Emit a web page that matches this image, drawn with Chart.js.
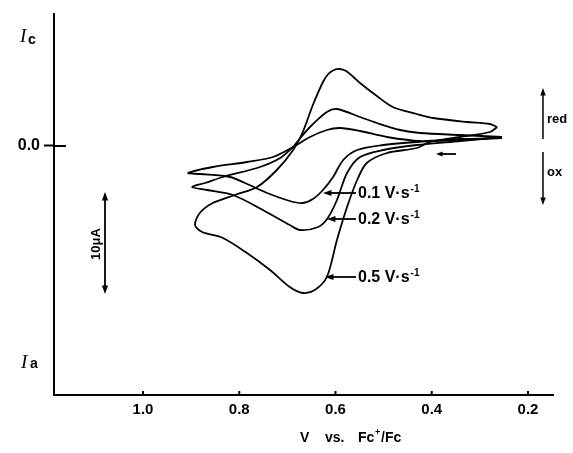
<!DOCTYPE html>
<html>
<head>
<meta charset="utf-8">
<script src="https://cdn.jsdelivr.net/npm/chart.js@4"></script>
<style>
  body { margin: 0; background: #fff; }
</style>
</head>
<body>
<canvas id="cv-chart" width="573" height="453"></canvas>
<script>
// potentials (V vs Fc+/Fc) and currents (uA, cathodic positive)
const volts01 = [0.254, 0.341, 0.431, 0.501, 0.555, 0.584, 0.605, 0.626, 0.647, 0.668, 0.695, 0.742, 0.788, 0.819, 0.882, 0.906,
                 0.855, 0.784, 0.730, 0.688, 0.653, 0.618, 0.591, 0.549, 0.493, 0.424, 0.341, 0.254];
const amps01  = [0.8, 0.6, 0.4, 0.1, -0.4, -1.4, -3.1, -4.4, -5.3, -5.7, -5.5, -4.7, -3.7, -3.1, -2.8, -2.7,
                 -2.1, -1.6, -1.1, -0.1, 0.9, 1.6, 1.8, 1.5, 0.9, 0.5, 0.7, 0.8];

const volts02 = [0.254, 0.341, 0.431, 0.501, 0.549, 0.576, 0.597, 0.616, 0.636, 0.674, 0.695, 0.751, 0.813, 0.867, 0.898,
                 0.871, 0.834, 0.757, 0.715, 0.688, 0.680, 0.653, 0.618, 0.597, 0.549, 0.514, 0.466, 0.424, 0.341, 0.254];
const amps02  = [0.9, 0.5, 0.1, -0.4, -1.1, -2.7, -5.4, -7.2, -8.1, -8.4, -7.9, -6.4, -4.9, -4.4, -4.1,
                 -3.7, -3.1, -2.1, -1.2, -0.1, 0.4, 1.9, 3.4, 3.7, 2.9, 2.3, 1.6, 1.3, 1.1, 0.9];

const volts05 = [0.264, 0.279, 0.341, 0.404, 0.431, 0.493, 0.535, 0.555, 0.576, 0.597, 0.618, 0.643, 0.668, 0.695, 0.736, 0.784, 0.834, 0.877, 0.892,
                 0.882, 0.855, 0.809, 0.763, 0.722, 0.688, 0.668, 0.647, 0.626, 0.615, 0.603, 0.591, 0.578, 0.565, 0.549, 0.514, 0.481, 0.431, 0.397, 0.327, 0.279, 0.264];
const amps05  = [1.9, 1.4, 0.9, 0.4, -0.2, -0.7, -1.7, -3.4, -6.1, -9.4, -13.1, -14.4, -14.7, -14.1, -12.4, -10.7, -9.2, -8.6, -7.9,
                 -6.7, -5.7, -4.9, -4.1, -2.4, -0.4, 1.4, 4.1, 6.4, 7.2, 7.6, 7.7, 7.5, 7.0, 6.3, 5.0, 3.9, 3.2, 2.8, 2.4, 2.2, 1.9];

const xTicks = [1.0, 0.8, 0.6, 0.4, 0.2];
const yTicks = [0];

function pts(vs, is) {
    return vs.map((v, k) => ({ x: v, y: is[k] }));
}

function curve(label, data) {
    return {
        label: label,
        data: data,
        showLine: true,
        borderColor: "#000",
        borderWidth: 1.8,
        pointRadius: 0,
        tension: 0.3,
        fill: false
    };
}

function arrow(ctx, x1, y1, x2, y2, head) {
    const a = Math.atan2(y2 - y1, x2 - x1);
    ctx.beginPath();
    ctx.moveTo(x1, y1);
    ctx.lineTo(x2 - Math.cos(a) * head * 0.6, y2 - Math.sin(a) * head * 0.6);
    ctx.stroke();
    ctx.beginPath();
    ctx.moveTo(x2, y2);
    ctx.lineTo(x2 - head * Math.cos(a - 0.35), y2 - head * Math.sin(a - 0.35));
    ctx.lineTo(x2 - head * Math.cos(a + 0.35), y2 - head * Math.sin(a + 0.35));
    ctx.closePath();
    ctx.fill();
}

function rateLabel(ctx, x, y, rate) {
    ctx.font = "bold 16px 'Liberation Sans'";
    ctx.textBaseline = "middle";
    ctx.textAlign = "left";
    let t = rate + " V\u00b7s";
    ctx.fillText(t, x, y);
    const w = ctx.measureText(t).width;
    ctx.font = "bold 10px 'Liberation Sans'";
    ctx.fillText("-1", x + w + 1, y - 5);
}

const extras = {
    id: "extras",
    afterDraw(chart) {
        const ctx = chart.ctx;
        const xs = chart.scales.x, ys = chart.scales.y;
        ctx.save();
        ctx.strokeStyle = "#000";
        ctx.fillStyle = "#000";
        ctx.lineWidth = 2;

        // little inward ticks on the x axis
        xTicks.forEach(v => {
            const px = xs.getPixelForValue(v);
            ctx.beginPath();
            ctx.moveTo(px, ys.bottom);
            ctx.lineTo(px, ys.bottom - 4);
            ctx.stroke();
        });
        // inner half of the 0.0 tick
        const y0 = ys.getPixelForValue(0);
        ctx.beginPath();
        ctx.moveTo(xs.left, y0);
        ctx.lineTo(xs.left + 12, y0);
        ctx.stroke();

        // axis end labels
        ctx.textBaseline = "alphabetic";
        ctx.textAlign = "left";
        ctx.font = "italic 19px 'Liberation Serif'";
        ctx.fillText("I", 20, 42);
        ctx.fillText("I", 21, 368);
        ctx.font = "bold 14px 'Liberation Sans'";
        ctx.fillText("c", 28, 44);
        ctx.fillText("a", 30, 368);

        // x axis title
        ctx.font = "bold 14px 'Liberation Sans'";
        ctx.fillText("V", 300, 442);
        ctx.fillText("vs.", 325, 442);
        ctx.fillText("Fc", 358, 442);
        ctx.font = "bold 9px 'Liberation Sans'";
        ctx.fillText("+", 375, 435);
        ctx.font = "bold 14px 'Liberation Sans'";
        ctx.fillText("/Fc", 381, 442);

        // current scale bar
        ctx.lineWidth = 1.8;
        arrow(ctx, 105, 240, 105, 192, 9);
        arrow(ctx, 105, 240, 105, 294, 9);
        ctx.save();
        ctx.translate(96, 244);
        ctx.rotate(-Math.PI / 2);
        ctx.textAlign = "center";
        ctx.textBaseline = "middle";
        ctx.font = "bold 13px 'Liberation Sans'";
        ctx.fillText("10\u03bcA", 0, 0);
        ctx.restore();

        // red / ox direction arrows
        ctx.lineWidth = 1.5;
        arrow(ctx, 543, 139, 543, 88, 8);
        arrow(ctx, 543, 152, 543, 205, 8);
        ctx.font = "bold 13px 'Liberation Sans'";
        ctx.textAlign = "left";
        ctx.textBaseline = "middle";
        ctx.fillText("red", 547, 119);
        ctx.fillText("ox", 547, 172);

        // sweep start arrow
        ctx.lineWidth = 1.8;
        arrow(ctx, 456, 154, 436, 154, 7);

        // scan rate labels
        ctx.lineWidth = 1.8;
        arrow(ctx, 356, 193, 323, 193, 9);
        arrow(ctx, 356, 219, 327, 219, 9);
        arrow(ctx, 356, 277, 325, 277, 9);
        rateLabel(ctx, 358, 194, "0.1");
        rateLabel(ctx, 358, 220, "0.2");
        rateLabel(ctx, 358, 278, "0.5");

        ctx.restore();
    }
};

new Chart(document.getElementById("cv-chart"), {
    type: 'scatter',
    data: {
        datasets: [
            curve("0.1 V/s", pts(volts01, amps01)),
            curve("0.2 V/s", pts(volts02, amps02)),
            curve("0.5 V/s", pts(volts05, amps05))
        ]
    },
    options: {
        responsive: false,
        animation: false,
        layout: { padding: { top: 14, right: 20, left: 0, bottom: 0 } },
        plugins: {
            legend: { display: false },
            tooltip: { enabled: false }
        },
        scales: {
            x: {
                type: 'linear',
                reverse: true,
                min: 0.148,
                max: 1.185,
                afterBuildTicks: s => { s.ticks = xTicks.map(v => ({ value: v })); },
                afterFit: s => { s.height = 58; },
                grid: { display: true, drawOnChartArea: false, drawTicks: false },
                border: { color: "#000", width: 2 },
                ticks: {
                    color: "#000",
                    padding: 6,
                    autoSkip: false,
                    maxRotation: 0,
                    font: { family: "Liberation Sans", size: 15, weight: "bold" },
                    callback: v => v.toFixed(1)
                }
            },
            y: {
                type: 'linear',
                min: -24.9,
                max: 13.2,
                afterBuildTicks: s => { s.ticks = yTicks.map(v => ({ value: v })); },
                afterFit: s => { s.width = 54; },
                grid: { display: true, drawOnChartArea: false, tickLength: 10, tickWidth: 2, tickColor: "#000" },
                border: { color: "#000", width: 2 },
                ticks: {
                    color: "#000",
                    padding: 4,
                    autoSkip: false,
                    font: { family: "Liberation Sans", size: 16, weight: "bold" },
                    callback: v => v.toFixed(1)
                }
            }
        }
    },
    plugins: [extras]
});
</script>
</body>
</html>
